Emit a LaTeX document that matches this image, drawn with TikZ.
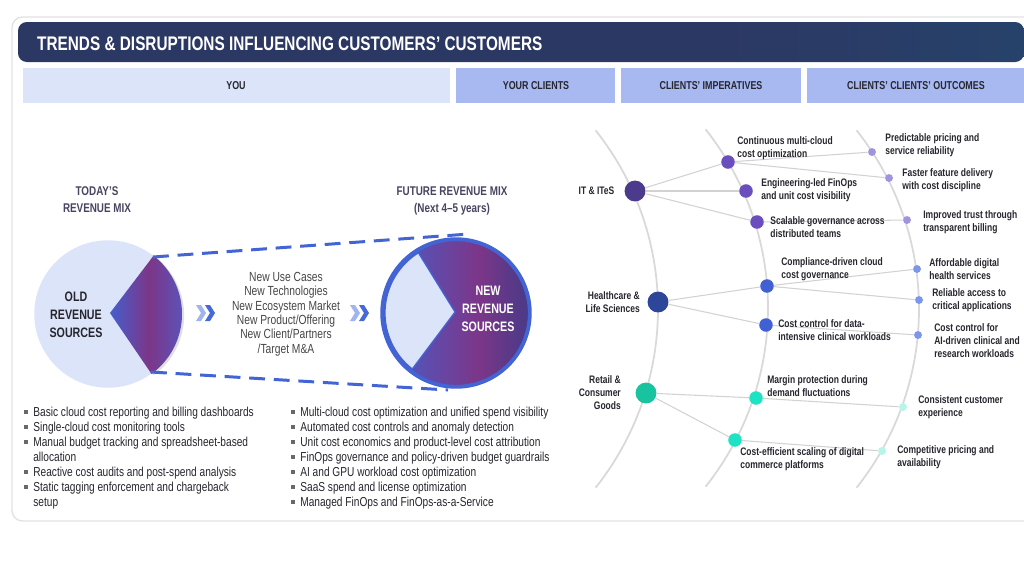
\documentclass[tikz,border=0pt]{standalone}
\usepackage{fontspec}
\setmainfont[FakeStretch=0.78]{Liberation Sans}
\usetikzlibrary{positioning,shadows}

\definecolor{navycolor}{RGB}{44,56,100}
\definecolor{glowcolor}{RGB}{38,66,106}
\definecolor{youcolor}{RGB}{220,228,250}
\definecolor{headcolor}{RGB}{168,184,240}
\definecolor{framecolor}{RGB}{226,226,226}
\definecolor{inkcolor}{RGB}{38,38,46}
\definecolor{mixcolor}{RGB}{74,68,96}
\definecolor{dashcolor}{RGB}{66,100,212}
\definecolor{chevlight}{RGB}{160,180,240}
\definecolor{chevdark}{RGB}{70,104,216}
\definecolor{gradblue}{RGB}{70,94,204}
\definecolor{gradpurple}{RGB}{124,54,136}
\definecolor{gradviolet}{RGB}{92,82,184}
\definecolor{graddark}{RGB}{72,58,136}
\definecolor{arccolor}{RGB}{217,217,217}
\definecolor{edgecolor}{RGB}{210,210,210}
\definecolor{itcolor}{RGB}{76,58,140}
\definecolor{itsub}{RGB}{106,78,190}
\definecolor{itout}{RGB}{160,148,222}
\definecolor{hccolor}{RGB}{46,70,154}
\definecolor{hcsub}{RGB}{64,96,212}
\definecolor{hcout}{RGB}{124,150,236}
\definecolor{rtcolor}{RGB}{24,196,160}
\definecolor{rtsub}{RGB}{30,226,196}
\definecolor{rtout}{RGB}{182,246,234}

% gradients of the two revenue pies
\pgfdeclarehorizontalshading{oldmixshade}{100bp}{color(0bp)=(gradblue); color(25bp)=(gradblue);
  color(52bp)=(gradpurple); color(75bp)=(gradviolet); color(100bp)=(gradviolet)}
\pgfdeclarehorizontalshading{newmixshade}{100bp}{color(0bp)=(gradblue); color(25bp)=(gradblue);
  color(40bp)=(gradblue!55!gradpurple); color(58bp)=(gradpurple); color(66bp)=(gradpurple!50!graddark);
  color(75bp)=(graddark); color(100bp)=(graddark)}
\pgfdeclarehorizontalshading{barshade}{100bp}{color(0bp)=(navycolor); color(25bp)=(navycolor);
  color(60bp)=(navycolor); color(75bp)=(glowcolor); color(100bp)=(glowcolor)}

\tikzset{
  headcell/.style={font=\bfseries\fontsize{6.5}{7.5}\selectfont, text=inkcolor},
  mixtitle/.style={font=\bfseries\fontsize{7.2}{9.6}\selectfont, text=mixcolor, align=center},
  srclabel/.style={font=\bfseries\fontsize{7.8}{10.2}\selectfont, align=center},
  drivers/.style={font=\fontsize{7.5}{8.2}\selectfont, text=black!72, align=center},
  bullettxt/.style={font=\fontsize{7.4}{8.5}\selectfont, text=inkcolor, anchor=north west, align=left, inner sep=0pt},
  netlabel/.style={font=\bfseries\fontsize{6.2}{7.4}\selectfont, text=inkcolor, align=left, anchor=west, inner sep=0pt},
  seclabel/.style={netlabel, align=right, anchor=east},
  bigdot/.style={circle, inner sep=0pt, minimum size=11.9pt},
  middot/.style={circle, inner sep=0pt, minimum size=7.7pt},
  smalldot/.style={circle, inner sep=0pt, minimum size=4.5pt},
  arcline/.style={arccolor, line width=1pt},
  link/.style={edgecolor, line width=0.6pt},
  dashlink/.style={dashcolor, line width=1.7pt, dash pattern=on 9pt off 5pt}
}

\begin{document}
\begin{tikzpicture}[x=0.02cm, y=-0.02cm]
  \useasboundingbox (0,0) rectangle (1024,576);
  \clip (0,0) rectangle (1024,576);
  \fill[white] (0,0) rectangle (1024,576);

  % ---- frame and title bar ----
  \draw[framecolor, line width=0.8pt, rounded corners=6pt] (12,17) rectangle (1050,521);
  \shade[shading=barshade, rounded corners=5pt] (18,22) rectangle (1024,62);
  \node[anchor=west, text=white, font=\bfseries\fontsize{11.2}{13}\selectfont] (title) at (31,44)
    {TRENDS \& DISRUPTIONS INFLUENCING CUSTOMERS’ CUSTOMERS};

  % ---- column headers ----
  \fill[youcolor] (23,68) rectangle (450,103);
  \fill[headcolor] (456,68) rectangle (615,103);
  \fill[headcolor] (621,68) rectangle (801,103);
  \fill[headcolor] (807,68) rectangle (1024,103);
  \node[headcell] (you) at (236,86) {YOU};
  \node[headcell] (clients) at (536,86) {YOUR CLIENTS};
  \node[headcell] (imperatives) at (711,86) {CLIENTS’ IMPERATIVES};
  \node[headcell] (outcomes) at (916,86) {CLIENTS’ CLIENTS’ OUTCOMES};

  % ---- revenue mix ----
  \node[mixtitle] (todaymix) at (97,200) {TODAY’S\\REVENUE MIX};
  \node[mixtitle] (futuremix) at (452,201) {FUTURE REVENUE MIX\\(Next 4--5 years)};

  \node[circle, fill=youcolor, minimum size=83.9pt, inner sep=0pt] (oldmix) at (108,314) {};
  \shade[shading=oldmixshade,
         drop shadow={shadow xshift=1.2pt, shadow yshift=-0.8pt, opacity=0.25}]
    (110,313) -- plot[domain=-52:54, samples=40] ({108+74*cos(\x)},{314+74*sin(\x)}) -- cycle;
  \node[srclabel, text=inkcolor] (oldsrc) at (76,315) {OLD\\REVENUE\\SOURCES};

  \coordinate (oldtop) at (153,257);
  \coordinate (oldbot) at (151,372);
  \coordinate (newtop) at (469,234);
  \coordinate (newbot) at (448,390);

  \node[circle, draw=dashcolor, line width=2.2pt, shading=newmixshade,
        minimum size=84pt, inner sep=0pt] (newmix) at (456,313) {};
  \filldraw[fill=youcolor, draw=dashcolor, line width=0.7pt]
    (455,312) -- plot[domain=128:238, samples=40] ({456+71*cos(\x)},{313+71*sin(\x)}) -- cycle;
  \node[srclabel, text=white] (newsrc) at (488,309) {NEW\\REVENUE\\SOURCES};

  \draw[dashlink] (oldtop) -- (newtop);
  \draw[dashlink] (oldbot) -- (newbot);

  % drivers and chevrons
  \node[drivers] (drivers) at (286,314)
    {New Use Cases\\New Technologies\\New Ecosystem Market\\New Product/Offering\\New Client/Partners\\/Target M\&A};
  \foreach \cx/\col in {196/chevlight, 205/chevdark, 350/chevlight, 359/chevdark}
    \fill[\col] (\cx,305) -- ({\cx+5},305) -- ({\cx+10},313) -- ({\cx+5},321) -- (\cx,321) -- ({\cx+5},313) -- cycle;

  % ---- bullet lists ----
  \foreach \y/\txt [count=\i] in {412/Basic cloud cost reporting and billing dashboards,
      427/Single-cloud cost monitoring tools,
      442/{Manual budget tracking and spreadsheet-based\\allocation},
      472/Reactive cost audits and post-spend analysis,
      487/{Static tagging enforcement and chargeback\\setup}} {
    \fill[inkcolor!70] (24,\y-1.8) rectangle (27.6,\y+1.8);
    \node[bullettxt] (old\i) at (33,\y-5) {\txt};
  }
  \foreach \y/\txt [count=\i] in {412/Multi-cloud cost optimization and unified spend visibility,
      427/Automated cost controls and anomaly detection,
      442/Unit cost economics and product-level cost attribution,
      457/FinOps governance and policy-driven budget guardrails,
      472/AI and GPU workload cost optimization,
      487/SaaS spend and license optimization,
      502/Managed FinOps and FinOps-as-a-Service} {
    \fill[inkcolor!70] (291,\y-1.8) rectangle (294.6,\y+1.8);
    \node[bullettxt] (new\i) at (300,\y-5) {\txt};
  }

  % ---- client network ----
  \foreach \cx/\cy in {371/309, 481/308, 632/309}
    \draw[arcline] plot[domain=-38.5:38.5, samples=60] ({\cx+287*cos(\x)},{\cy+287*sin(\x)});

  \node[bigdot, fill=itcolor] (it) at (635,191) {};
  \node[bigdot, fill=hccolor] (hc) at (658,302) {};
  \node[bigdot, fill=rtcolor] (rt) at (646,393) {};

  \node[middot, fill=itsub] (it1) at (728,162) {};
  \node[middot, fill=itsub] (it2) at (746,191) {};
  \node[middot, fill=itsub] (it3) at (757,222) {};
  \node[middot, fill=hcsub] (hc1) at (767,286) {};
  \node[middot, fill=hcsub] (hc2) at (766,325) {};
  \node[middot, fill=rtsub] (rt1) at (756,398) {};
  \node[middot, fill=rtsub] (rt2) at (735,440) {};

  \node[smalldot, fill=itout] (out1) at (872,152) {};
  \node[smalldot, fill=itout] (out2) at (889,178) {};
  \node[smalldot, fill=itout] (out3) at (907,220) {};
  \node[smalldot, fill=hcout] (out4) at (917,269) {};
  \node[smalldot, fill=hcout] (out5) at (919,300) {};
  \node[smalldot, fill=hcout] (out6) at (918,335) {};
  \node[smalldot, fill=rtout] (out7) at (903,407) {};
  \node[smalldot, fill=rtout] (out8) at (882,451) {};

  \foreach \a/\b in {it/it1, it/it2, it/it3, hc/hc1, hc/hc2, rt/rt1, rt/rt2,
                     it1/out1, it1/out2, it3/out3, hc1/out4, hc1/out5, hc2/out6, rt1/out7, rt2/out8}
    \draw[link] (\a) -- (\b);

  % sector labels
  \node[seclabel, left=5.4pt of it] (itlab) {IT \& ITeS};
  \node[seclabel, left=4pt of hc] (hclab) {Healthcare \&\\Life Sciences};
  \node[seclabel, left=8pt of rt] (rtlab) {Retail \&\\Consumer\\Goods};

  % imperatives
  \node[netlabel] (imp1) at (737,148) {Continuous multi-cloud\\cost optimization};
  \node[netlabel] (imp2) at (761,190) {Engineering-led FinOps\\and unit cost visibility};
  \node[netlabel] (imp3) at (770,227) {Scalable governance across\\distributed teams};
  \node[netlabel] (imp4) at (781,269) {Compliance-driven cloud\\cost governance};
  \node[netlabel] (imp5) at (778,330) {Cost control for data-\\intensive clinical workloads};
  \node[netlabel] (imp6) at (767,386) {Margin protection during\\demand fluctuations};
  \node[netlabel] (imp7) at (740,459) {Cost-efficient scaling of digital\\commerce platforms};

  % outcomes
  \node[netlabel] (res1) at (885,145) {Predictable pricing and\\service reliability};
  \node[netlabel] (res2) at (902,180) {Faster feature delivery\\with cost discipline};
  \node[netlabel] (res3) at (923,222) {Improved trust through\\transparent billing};
  \node[netlabel] (res4) at (929,269) {Affordable digital\\health services};
  \node[netlabel] (res5) at (932,300) {Reliable access to\\critical applications};
  \node[netlabel] (res6) at (934,341) {Cost control for\\AI-driven clinical and\\research workloads};
  \node[netlabel] (res7) at (918,407) {Consistent customer\\experience};
  \node[netlabel] (res8) at (897,457) {Competitive pricing and\\availability};

\end{tikzpicture}
\end{document}
